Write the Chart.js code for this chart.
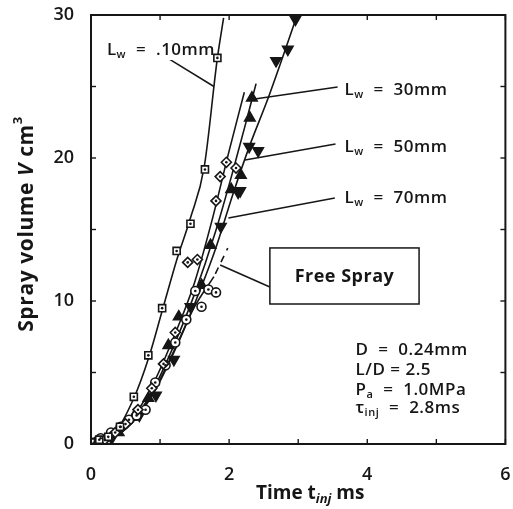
<!DOCTYPE html>
<html>
<head>
<meta charset="utf-8">
<script src="https://cdn.jsdelivr.net/npm/chart.js@4.4.0/dist/chart.umd.min.js"></script>
<style>
  html, body { margin: 0; padding: 0; background: #fff; }
</style>
</head>
<body>
<canvas id="spray" width="513" height="509"></canvas>
<script>
// axis ticks
const tTicks = [0, 2, 4, 6];
const vTicks = [0, 10, 20, 30];

// fitted curves (time ms / volume cm3)
const fit10T = [0, 0.3, 0.62, 0.84, 1.03, 1.25, 1.44, 1.64, 1.83, 1.92];
const fit10V = [0, 0.5, 3.2, 6.1, 9.3, 13.0, 15.8, 19.4, 27.0, 29.8];
const fit30T = [0, 0.3, 0.6, 0.9, 1.2, 1.5, 1.8, 2.05, 2.25, 2.39];
const fit30V = [0, 0.4, 1.6, 3.8, 6.9, 10.5, 14.8, 19.0, 22.6, 25.2];
const fit50T = [0, 0.3, 0.6, 0.9, 1.2, 1.5, 1.8, 2.05, 2.3, 2.55, 2.8, 3.0];
const fit50V = [0, 0.4, 1.5, 3.5, 6.4, 9.8, 13.6, 17.4, 20.9, 24.0, 27.4, 30.2];
const fit70T = [0, 0.3, 0.6, 0.9, 1.2, 1.5, 1.75, 2.0, 2.22];
const fit70V = [0, 0.5, 1.8, 4.2, 7.5, 11.3, 15.6, 20.5, 24.6];
const freeT = [0, 0.3, 0.6, 0.9, 1.2, 1.5, 1.78];
const freeV = [0, 0.4, 1.5, 3.6, 6.5, 9.6, 11.7];
const freeDashT = [1.8, 1.98];
const freeDashV = [11.9, 13.7];

// measured points
const sqT = [0, 0.12, 0.25, 0.42, 0.62, 0.83, 1.03, 1.24, 1.44, 1.65, 1.83];
const sqV = [0.1, 0.3, 0.5, 1.2, 3.3, 6.2, 9.5, 13.5, 15.4, 19.2, 27.0];
const upT = [0.1, 0.4, 0.62, 0.83, 1.12, 1.27, 1.6, 1.73, 2.03, 2.17, 2.3, 2.33];
const upV = [0.1, 0.8, 1.9, 3.2, 6.9, 8.9, 11.1, 13.9, 17.8, 18.8, 22.8, 24.2];
const dnT = [0.3, 0.7, 0.94, 1.2, 1.44, 1.88, 2.13, 2.16, 2.29, 2.42, 2.68, 2.85, 2.96];
const dnV = [0.4, 2.0, 3.4, 5.9, 9.6, 15.2, 17.6, 17.7, 20.8, 20.5, 26.8, 27.6, 29.7];
const dmT = [0.05, 0.2, 0.35, 0.5, 0.68, 0.88, 1.05, 1.22, 1.40, 1.54, 1.81, 1.87, 1.96, 2.1];
const dmV = [0.1, 0.3, 0.8, 1.4, 2.4, 3.9, 5.6, 7.8, 12.7, 12.9, 17.0, 18.7, 19.7, 19.3];
const ciT = [0, 0.14, 0.29, 0.43, 0.55, 0.66, 0.79, 0.93, 1.08, 1.22, 1.38, 1.51, 1.60, 1.70, 1.81];
const ciV = [0.1, 0.4, 0.8, 1.2, 1.7, 2.0, 2.4, 4.3, 5.5, 7.1, 8.7, 10.7, 9.6, 10.8, 10.6];

// labels
const lwNames = ['.10mm', '30mm', '50mm', '70mm'];
const paramLines = [
  [['D  =  0.24mm']],
  [['L/D = 2.5']],
  [['P'], ['a', 'sub'], ['  =  1.0MPa']],
  [['\u03C4'], ['inj', 'sub'], ['  =  2.8ms']]
];

const INK = '#161616';
const FONT = '"Open Sans", "DejaVu Sans", sans-serif';
const zip = (ts, vs) => ts.map((t, i) => ({ x: t, y: vs[i] }));

// annotation placement, in data units
const lwAt = [[0.23, 27.55], [3.67, 24.76], [3.67, 20.77], [3.67, 17.2]];
const lwLead = [
  [[1.14, 26.9], [1.78, 25.0]],
  [[3.57, 24.97], [2.37, 24.13]],
  [[3.54, 20.98], [2.23, 19.86]],
  [[3.53, 17.2], [1.99, 15.8]]
];
const freeBox = [[2.59, 13.71], [4.75, 9.79]];
const freeLead = [[1.87, 12.52], [2.59, 10.98]];
const paramAt = [3.83, [6.57, 5.17, 3.78, 2.52]];

function curve(ts, vs, dash) {
  return {
    type: 'line', data: zip(ts, vs), borderColor: INK, borderWidth: 1.6,
    borderDash: dash || [], pointRadius: 0, tension: 0.35,
    cubicInterpolationMode: 'monotone', fill: false, order: 2
  };
}
function marks(ts, vs, style, fill, r, rot) {
  return {
    type: 'scatter', data: zip(ts, vs), pointStyle: style, rotation: rot || 0,
    pointRadius: r, pointBackgroundColor: fill, pointBorderColor: INK,
    pointBorderWidth: 1.6, order: 1
  };
}
function dots(ts, vs) {
  return { type: 'scatter', data: zip(ts, vs), pointRadius: 1.3, pointBackgroundColor: INK,
    pointBorderWidth: 0, order: 0 };
}

// text with sub/superscript runs
function fontFor(k, size, weight) {
  if (k === 'sub' || k === 'sup') return `${weight} ${Math.round(size * 0.62)}px ${FONT}`;
  if (k === 'it') return `italic ${weight} ${size}px ${FONT}`;
  if (k === 'subit') return `italic ${weight} ${Math.round(size * 0.68)}px ${FONT}`;
  return `${weight} ${size}px ${FONT}`;
}
function runWidth(ctx, parts, size, weight) {
  let w = 0;
  for (const [s, k] of parts) {
    ctx.font = fontFor(k, size, weight);
    w += ctx.measureText(s).width;
  }
  return w;
}
function drawRuns(ctx, x, y, parts, size, weight) {
  for (const [s, k] of parts) {
    ctx.font = fontFor(k, size, weight);
    let dy = 0;
    if (k === 'sub' || k === 'subit') dy = size * 0.3;
    if (k === 'sup') dy = -size * 0.42;
    ctx.fillText(s, x, y + dy);
    x += ctx.measureText(s).width;
  }
}

const framePlugin = {
  id: 'frame',
  afterDatasetsDraw(chart) {
    const { ctx, chartArea: a, scales: { x, y } } = chart;
    const px = (p) => [x.getPixelForValue(p[0]), y.getPixelForValue(p[1])];
    const seg = (p, q) => { ctx.beginPath(); ctx.moveTo(p[0], p[1]); ctx.lineTo(q[0], q[1]); ctx.stroke(); };
    ctx.save();
    ctx.strokeStyle = INK;
    ctx.fillStyle = INK;
    ctx.lineWidth = 2;
    ctx.strokeRect(a.left, a.top, a.right - a.left, a.bottom - a.top);

    // inner ticks on all four sides
    ctx.lineWidth = 1.4;
    x.ticks.forEach(t => {
      const p = x.getPixelForValue(t.value);
      seg([p, a.bottom], [p, a.bottom - 5]);
      seg([p, a.top], [p, a.top + 5]);
    });
    y.ticks.forEach(t => {
      const p = y.getPixelForValue(t.value);
      seg([a.left, p], [a.left + 5, p]);
      seg([a.right, p], [a.right - 5, p]);
    });

    // leaders
    ctx.lineWidth = 1.5;
    lwLead.forEach(([p, q]) => seg(px(p), px(q)));
    seg(px(freeLead[0]), px(freeLead[1]));

    // free spray box
    const b0 = px(freeBox[0]), b1 = px(freeBox[1]);
    ctx.fillStyle = '#fff';
    ctx.fillRect(b0[0], b0[1], b1[0] - b0[0], b1[1] - b0[1]);
    ctx.strokeRect(b0[0], b0[1], b1[0] - b0[0], b1[1] - b0[1]);
    ctx.fillStyle = INK;
    ctx.textBaseline = 'middle';
    ctx.textAlign = 'center';
    ctx.font = `bold 18px ${FONT}`;
    ctx.letterSpacing = '0.5px';
    ctx.fillText('Free Spray', (b0[0] + b1[0]) / 2, (b0[1] + b1[1]) / 2 + 1);

    // Lw labels
    ctx.textAlign = 'left';
    lwNames.forEach((name, i) => {
      const [lx, ly] = px(lwAt[i]);
      ctx.fillStyle = '#fff';
      ctx.fillRect(lx - 2, ly - 10, 106, 20);
      ctx.fillStyle = INK;
      drawRuns(ctx, lx, ly, [['L'], ['w', 'sub'], ['  =  ' + name]], 17, 600);
    });

    // run conditions
    paramLines.forEach((parts, i) => {
      drawRuns(ctx, x.getPixelForValue(paramAt[0]), y.getPixelForValue(paramAt[1][i]), parts, 17, 600);
    });

    // axis titles
    ctx.letterSpacing = '0px';
    const xt = [['Time t'], ['inj', 'subit'], [' ms']];
    const xw = runWidth(ctx, xt, 19, 'bold');
    drawRuns(ctx, (a.left + a.right) / 2 + 12 - xw / 2, 494, xt, 19, 'bold');

    ctx.letterSpacing = '0.6px';
    const yt = [['Spray volume '], ['V', 'it'], [' cm'], ['3', 'sup']];
    const yw = runWidth(ctx, yt, 21, 'bold');
    ctx.translate(27, 224);
    ctx.rotate(-Math.PI / 2);
    drawRuns(ctx, -yw / 2, 0, yt, 21, 'bold');
    ctx.restore();
  }
};

new Chart(document.getElementById('spray'), {
  data: {
    datasets: [
      curve(fit10T, fit10V),
      curve(fit30T, fit30V),
      curve(fit50T, fit50V),
      curve(fit70T, fit70V),
      curve(freeT, freeV),
      curve(freeDashT, freeDashV, [7, 6]),
      marks(sqT, sqV, 'rect', '#fff', 5),
      marks(dmT, dmV, 'rectRot', '#fff', 5),
      marks(ciT, ciV, 'circle', '#fff', 4.5),
      marks(upT, upV, 'triangle', INK, 6),
      marks(dnT, dnV, 'triangle', INK, 6, 180),
      dots(sqT, sqV),
      dots(dmT, dmV),
      dots(ciT, ciV)
    ]
  },
  options: {
    responsive: false,
    animation: false,
    layout: { padding: { top: 15, right: 4, left: 0, bottom: 0 } },
    plugins: { legend: { display: false }, tooltip: { enabled: false } },
    scales: {
      x: {
        type: 'linear', min: tTicks[0], max: tTicks[tTicks.length - 1],
        grid: { display: false }, border: { display: false },
        ticks: {
          stepSize: 1, padding: 12, color: INK, maxRotation: 0,
          font: { family: FONT, size: 18, weight: 600 },
          callback: v => tTicks.includes(v) ? String(v) : ''
        },
        afterFit: s => { s.height = 65; s.paddingLeft = 0; s.paddingRight = 0; }
      },
      y: {
        type: 'linear', min: vTicks[0], max: vTicks[vTicks.length - 1],
        grid: { display: false }, border: { display: false },
        ticks: {
          stepSize: 5, padding: 9, color: INK,
          font: { family: FONT, size: 18, weight: 600 },
          callback: v => vTicks.includes(v) ? String(v) : ''
        },
        afterFit: s => { s.width = 91; s.paddingTop = 0; s.paddingBottom = 0; }
      }
    }
  },
  plugins: [framePlugin]
});
</script>
</body>
</html>
